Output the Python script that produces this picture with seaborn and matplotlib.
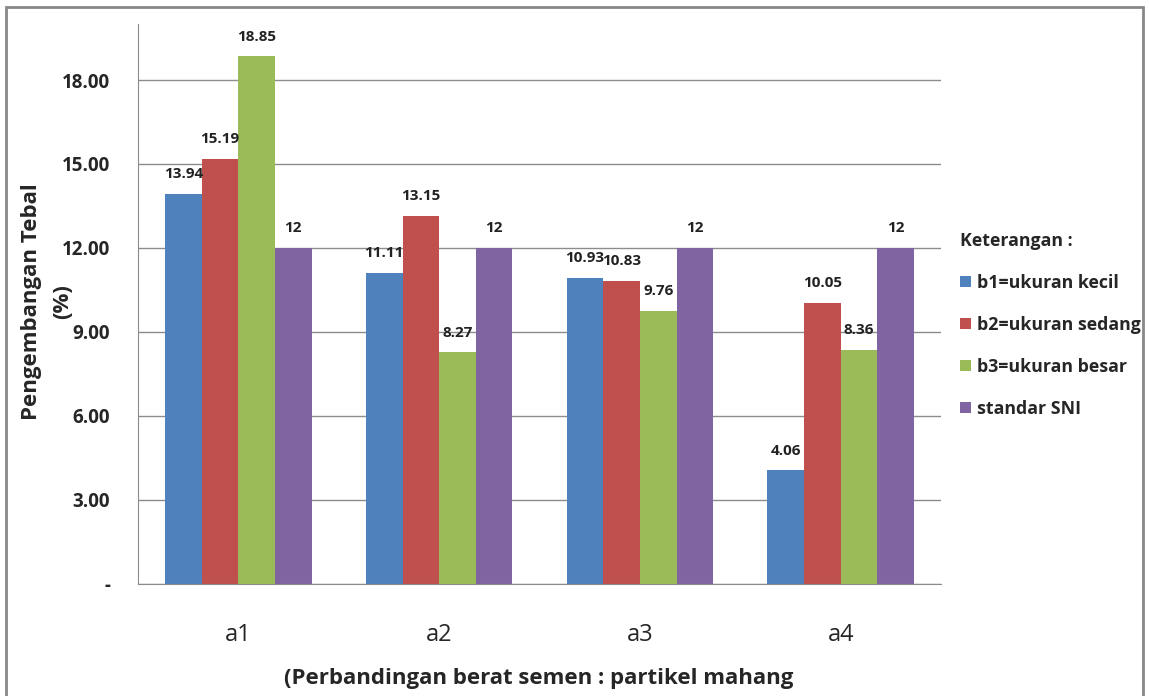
import pandas as pd
import matplotlib.pyplot as plt
import seaborn as sns

# Data
groups = ['a1', 'a2', 'a3', 'a4']
series = ['b1=ukuran kecil', 'b2=ukuran sedang', 'b3=ukuran besar', 'standar SNI']
b1 = [13.94, 11.11, 10.93, 4.06]
b2 = [15.19, 13.15, 10.83, 10.05]
b3 = [18.85, 8.27, 9.76, 8.36]
sni = [12, 12, 12, 12]
colors = ['#4F81BD', '#C0504D', '#9BBB59', '#8064A2']

rows = []
for name, vals in zip(series, [b1, b2, b3, sni]):
    for g, v in zip(groups, vals):
        rows.append({'Group': g, 'Seri': name, 'Nilai': v})
df = pd.DataFrame(rows)

sns.set_style('white')
plt.rcParams['font.family'] = ['Open Sans', 'DejaVu Sans']

fig = plt.figure(figsize=(11.49, 6.96), dpi=100)
ax = fig.add_axes([0.1201, 0.161, 0.699, 0.8045])

sns.barplot(data=df, x='Group', y='Nilai', hue='Seri', palette=colors,
            width=0.73, gap=0, saturation=1, linewidth=0, ax=ax, legend=True)

# value labels
for cont, name in zip(ax.containers, series):
    if name == 'standar SNI':
        labels = ['%g' % v for v in cont.datavalues]
    else:
        labels = ['%.2f' % v for v in cont.datavalues]
    ax.bar_label(cont, labels=labels, padding=9, fontsize=11,
                 fontweight='bold', color='#222222')

ax.set_ylim(0, 20)
ax.set_xlim(-0.5, 3.5)
ax.set_yticks([0, 3, 6, 9, 12, 15, 18])
ax.set_yticklabels(['-', '3.00', '6.00', '9.00', '12.00', '15.00', '18.00'],
                   fontsize=13.5, fontweight='bold')
ax.tick_params(axis='y', length=5, color='#888888', pad=15)
ax.tick_params(axis='x', length=0, pad=28, labelsize=17)
ax.yaxis.grid(True, color='#8c8c8c', linewidth=1)
ax.set_axisbelow(True)
for s in ['top', 'right']:
    ax.spines[s].set_visible(False)
for s in ['left', 'bottom']:
    ax.spines[s].set_color('#8c8c8c')

# y label in two lines, placed separately
ax.set_ylabel('')
ax.text(-0.133, 0.504, 'Pengembangan Tebal', transform=ax.transAxes,
        rotation=90, ha='center', va='center', fontsize=16, fontweight='bold')
ax.text(-0.094, 0.504, '(%)', transform=ax.transAxes,
        rotation=90, ha='center', va='center', fontsize=16, fontweight='bold')

ax.set_xlabel('(Perbandingan berat semen : partikel mahang', fontsize=16,
              fontweight='bold')
ax.xaxis.set_label_coords(0.4994, -0.15)

leg = ax.legend(title='Keterangan :', loc='center left', bbox_to_anchor=(1.015, 0.4625),
                frameon=False, fontsize=12.8, title_fontsize=12.8,
                handlelength=0.6, handleheight=0.6, handletextpad=0.35,
                labelspacing=1.35, borderaxespad=0)
leg.get_title().set_fontweight('bold')
leg._legend_box.align = 'left'
for t in leg.get_texts():
    t.set_fontweight('bold')

# outer frame
fig.patches.append(plt.Rectangle((0.005, -0.01), 0.99, 1.0, transform=fig.transFigure,
                                 fill=False, edgecolor='#888888', linewidth=2))

fig.savefig('out.png', dpi=100)
